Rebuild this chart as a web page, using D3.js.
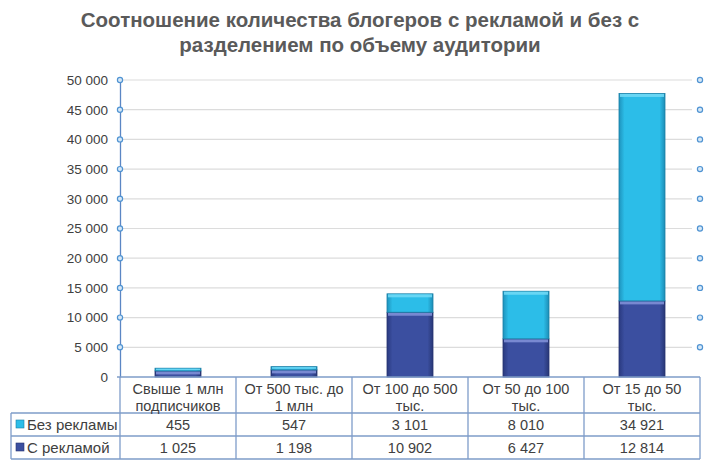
<!DOCTYPE html>
<html>
<head>
<meta charset="utf-8">
<script src="https://cdn.jsdelivr.net/npm/d3@7"></script>
<style>
  body { margin: 0; background: #fff; }
  svg { font-family: "Liberation Sans", Arial, sans-serif; }
</style>
</head>
<body>
<div id="chart"></div>
<script>
const categories = [
  ["Свыше 1 млн", "подписчиков"],
  ["От 500 тыс. до", "1 млн"],
  ["От 100 до 500", "тыс."],
  ["От 50 до 100", "тыс."],
  ["От 15 до 50", "тыс."]
];
const withAds = [1025, 1198, 10902, 6427, 12814];
const withoutAds = [455, 547, 3101, 8010, 34921];
const seriesNames = ["Без рекламы", "С рекламой"];
const yTicks = [0, 5000, 10000, 15000, 20000, 25000, 30000, 35000, 40000, 45000, 50000];

const W = 720, H = 475;
const plotLeft = 120, plotRight = 700, plotTop = 80, plotBottom = 377;
const rowH = [36, 23, 23];
const tableLeft = 11;

const svg = d3.select("#chart").append("svg")
  .attr("width", W).attr("height", H);

const fmt = v => d3.format(",")(v).replace(/,/g, " ");

// gradients for bars
const defs = svg.append("defs");
function grad(id, c1, c2, c3) {
  const g = defs.append("linearGradient").attr("id", id)
    .attr("x1", "0%").attr("x2", "100%").attr("y1", "0%").attr("y2", "0%");
  g.append("stop").attr("offset", "0%").attr("stop-color", c1);
  g.append("stop").attr("offset", "12%").attr("stop-color", c2);
  g.append("stop").attr("offset", "88%").attr("stop-color", c2);
  g.append("stop").attr("offset", "100%").attr("stop-color", c3);
}
grad("gLight", "#1e93bd", "#2cbde8", "#1d8db6");
grad("gDark", "#2a3a80", "#3b4fa0", "#283776");

// title
svg.append("text").attr("x", 360).attr("y", 27)
  .attr("text-anchor", "middle").attr("font-size", 20.5).attr("font-weight", "bold")
  .attr("fill", "#5a5a5a").text("Соотношение количества блогеров с рекламой и без с");
svg.append("text").attr("x", 360).attr("y", 52)
  .attr("text-anchor", "middle").attr("font-size", 20.5).attr("font-weight", "bold")
  .attr("fill", "#5a5a5a").text("разделением по объему аудитории");

const x = d3.scaleBand().domain(d3.range(categories.length)).range([plotLeft, plotRight]).paddingInner(0).paddingOuter(0);
const y = d3.scaleLinear().domain([0, 50000]).range([plotBottom, plotTop]);

// gridlines
svg.append("g").selectAll("line").data(yTicks.filter(t => t > 0)).join("line")
  .attr("x1", plotLeft).attr("x2", plotRight - 8)
  .attr("y1", d => y(d)).attr("y2", d => y(d))
  .attr("stroke", "#dcdcdc").attr("stroke-width", 1.2);

// left axis
const yAxis = d3.axisLeft(y).tickValues(yTicks).tickFormat(fmt).tickSize(0).tickPadding(12);
const ag = svg.append("g").attr("transform", `translate(${plotLeft},0)`).call(yAxis);
ag.select(".domain").attr("stroke", "#5b86c4").attr("stroke-width", 1.3);
ag.selectAll("text").attr("font-size", 13.5).attr("fill", "#404040")
  .attr("font-family", "Liberation Sans, Arial, sans-serif");

// tick markers (left and right)
[plotLeft, plotRight].forEach(px => {
  svg.append("g").selectAll("circle").data(yTicks.filter(t => t > 0)).join("circle")
    .attr("cx", px).attr("cy", d => y(d)).attr("r", 2.6)
    .attr("fill", "#d6e8f7").attr("stroke", "#4f93d2").attr("stroke-width", 1.2);
});

// bars
const bw = 46;
const stacks = categories.map((c, i) => ({
  i,
  segs: [
    {y0: 0, y1: withAds[i], fill: "url(#gDark)", cap: "#7f8fd6", edge: "#263370"},
    {y0: withAds[i], y1: withAds[i] + withoutAds[i], fill: "url(#gLight)", cap: "#6fd8f5", edge: "#1a7fa6"}
  ]
}));
stacks.forEach(s => {
  const cx = x(s.i) + x.bandwidth() / 2;
  s.segs.forEach(seg => {
    const yt = y(seg.y1), yb = y(seg.y0);
    svg.append("rect").attr("x", cx - bw / 2).attr("y", yt)
      .attr("width", bw).attr("height", yb - yt)
      .attr("fill", seg.fill).attr("stroke", seg.edge).attr("stroke-width", 0.8);
    const bev = Math.min(3, (yb - yt) / 2);
    svg.append("rect").attr("x", cx - bw / 2 + 1).attr("y", yt + 0.5)
      .attr("width", bw - 2).attr("height", bev)
      .attr("fill", seg.cap).attr("opacity", 0.9);
  });
});

// table
const lineC = "#7e9cc9";
const tb = svg.append("g");
const r1 = plotBottom + rowH[0], r2 = r1 + rowH[1], r3 = r2 + rowH[2];
tb.append("line").attr("x1", plotLeft - 3).attr("x2", plotRight).attr("y1", plotBottom).attr("y2", plotBottom)
  .attr("stroke", lineC).attr("stroke-width", 1.3);
[r1, r2, r3].forEach(yy => {
  tb.append("line").attr("x1", tableLeft).attr("x2", plotRight).attr("y1", yy).attr("y2", yy)
    .attr("stroke", lineC).attr("stroke-width", 1.3);
});
tb.append("line").attr("x1", tableLeft).attr("x2", tableLeft).attr("y1", r1).attr("y2", r3)
  .attr("stroke", lineC).attr("stroke-width", 1.3);
d3.range(categories.length + 1).forEach(i => {
  const xx = i < categories.length ? x(i) : plotRight;
  tb.append("line").attr("x1", xx).attr("x2", xx).attr("y1", plotBottom).attr("y2", r3)
    .attr("stroke", lineC).attr("stroke-width", 1.3);
});
// category labels
categories.forEach((c, i) => {
  const t = tb.append("text").attr("x", x(i) + x.bandwidth() / 2).attr("y", plotBottom + 17)
    .attr("text-anchor", "middle").attr("font-size", 14.5).attr("fill", "#404040");
  c.forEach((ln, k) => t.append("tspan").attr("x", x(i) + x.bandwidth() / 2)
    .attr("dy", k === 0 ? 0 : 16.5).text(ln));
});
// rows
const rows = [
  {name: seriesNames[0], vals: withoutAds, y0: r1, color: "#2cbde8", edge: "#1a7fa6"},
  {name: seriesNames[1], vals: withAds, y0: r2, color: "#3b4fa0", edge: "#263370"}
];
rows.forEach(r => {
  const cy = r.y0 + rowH[1] / 2;
  tb.append("rect").attr("x", 16).attr("y", cy - 4.5).attr("width", 8).attr("height", 8)
    .attr("fill", r.color).attr("stroke", r.edge).attr("stroke-width", 0.6);
  tb.append("text").attr("x", 27).attr("y", cy + 5).attr("font-size", 15)
    .attr("fill", "#404040").text(r.name);
  r.vals.forEach((v, i) => {
    tb.append("text").attr("x", x(i) + x.bandwidth() / 2).attr("y", cy + 5)
      .attr("text-anchor", "middle").attr("font-size", 14.5).attr("fill", "#404040")
      .text(fmt(v));
  });
});
</script>
</body>
</html>
